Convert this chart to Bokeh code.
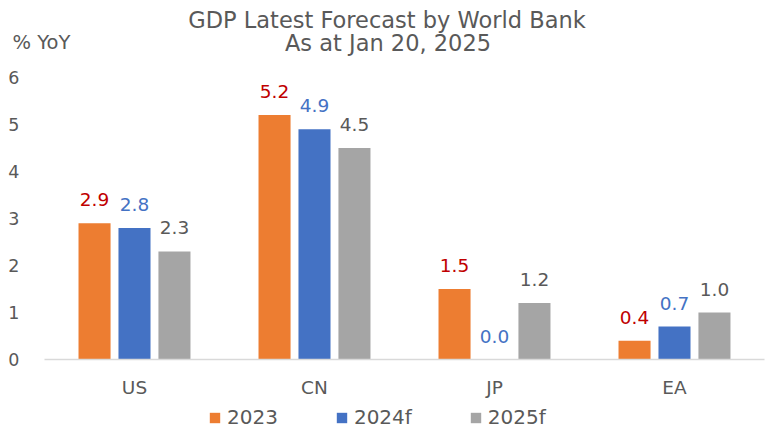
from bokeh.plotting import figure
from bokeh.models import (ColumnDataSource, Range1d, Legend, LegendItem,
                          LabelSet, Label, FixedTicker)
from bokeh.embed import file_html
from bokeh.resources import INLINE
from bokeh.core.properties import value

regions = ["US", "CN", "JP", "EA"]
series_names = ["2023", "2024f", "2025f"]
gdp_2023 = [2.9, 5.2, 1.5, 0.4]
gdp_2024f = [2.8, 4.9, 0.0, 0.7]
gdp_2025f = [2.3, 4.5, 1.2, 1.0]
y_ticks = [0, 1, 2, 3, 4, 5, 6]
title_line1 = "GDP Latest Forecast by World Bank"
title_line2 = "As at Jan 20, 2025"
y_unit = "% YoY"

bar_colors = ["#ED7D31", "#4472C4", "#A5A5A5"]
label_colors = ["#C00000", "#4472C4", "#595959"]
TEXT = "#595959"
FONT = "DejaVu Sans"

# category slots: region i occupies [i, i+1] on the x scale
centers = [i + 0.5 for i in range(len(regions))]
offsets = [-0.222, 0.0, 0.222]
series_vals = [gdp_2023, gdp_2024f, gdp_2025f]

X0, X1 = -0.2444, 4.0056
Y0, Y1 = -1.489, 7.638

p = figure(x_range=Range1d(X0, X1), y_range=Range1d(Y0, Y1),
           width=765, height=429, output_backend="svg", toolbar_location=None,
           min_border_left=0, min_border_right=0, min_border_top=0,
           min_border_bottom=0)
p.outline_line_color = None
p.background_fill_color = "white"
p.border_fill_color = "white"
p.xgrid.grid_line_color = None
p.ygrid.grid_line_color = None

items = []
for name, vals, off, bc, lc in zip(series_names, series_vals, offsets, bar_colors, label_colors):
    src = ColumnDataSource(dict(x=[c + off for c in centers], top=vals,
                                lab=["%.1f" % v for v in vals]))
    r = p.vbar(x="x", top="top", width=0.178, source=src,
               fill_color=bc, line_color=None)
    items.append(LegendItem(label=name, renderers=[r]))
    p.add_layout(LabelSet(x="x", y="top", text="lab", source=src,
                          text_align="center", text_baseline="bottom", y_offset=17,
                          text_font=value(FONT), text_font_size="18.5px",
                          text_color=lc))

# y axis (fixed at the left edge of the category area)
p.yaxis.fixed_location = 0
p.yaxis.ticker = FixedTicker(ticks=y_ticks)
p.yaxis.axis_line_color = None
p.yaxis.major_tick_line_color = None
p.yaxis.minor_tick_line_color = None
p.yaxis.major_label_text_font = FONT
p.yaxis.major_label_text_font_size = "17.5px"
p.yaxis.major_label_text_color = TEXT
p.yaxis.major_label_standoff = 19

# x axis (fixed at y = 0)
p.xaxis.fixed_location = 0
p.xaxis.bounds = (0, len(regions))
p.xaxis.ticker = FixedTicker(ticks=centers)
p.xaxis.major_label_overrides = {c: r for c, r in zip(centers, regions)}
p.xaxis.axis_line_color = "#D9D9D9"
p.xaxis.axis_line_width = 1.5
p.xaxis.major_tick_line_color = None
p.xaxis.minor_tick_line_color = None
p.xaxis.major_label_text_font = FONT
p.xaxis.major_label_text_font_size = "18.5px"
p.xaxis.major_label_text_color = TEXT
p.xaxis.major_label_standoff = 11

legend = Legend(items=items, orientation="horizontal", location=(208, 0),
                label_text_font=FONT, label_text_font_size="20px",
                label_text_color=TEXT, glyph_width=13, glyph_height=13,
                label_standoff=6, spacing=57, border_line_color=None,
                background_fill_alpha=0, padding=0, margin=0)
p.add_layout(legend)

# titles and unit label
title_x = (X0 + X1) / 2
p.add_layout(Label(x=title_x, x_offset=4, y=6, y_offset=57.5, text=title_line1,
                   text_align="center", text_baseline="middle",
                   text_font=FONT, text_font_size="22.5px", text_color=TEXT))
p.add_layout(Label(x=title_x, x_offset=5, y=6, y_offset=34, text=title_line2,
                   text_align="center", text_baseline="middle",
                   text_font=FONT, text_font_size="22.5px", text_color=TEXT))
p.add_layout(Label(x=X0, x_offset=12, y=6, y_offset=34.5, text=y_unit,
                   text_align="left", text_baseline="middle",
                   text_font=FONT, text_font_size="19.5px", text_color=TEXT))

open("out.html", "w").write(file_html(p, INLINE))
